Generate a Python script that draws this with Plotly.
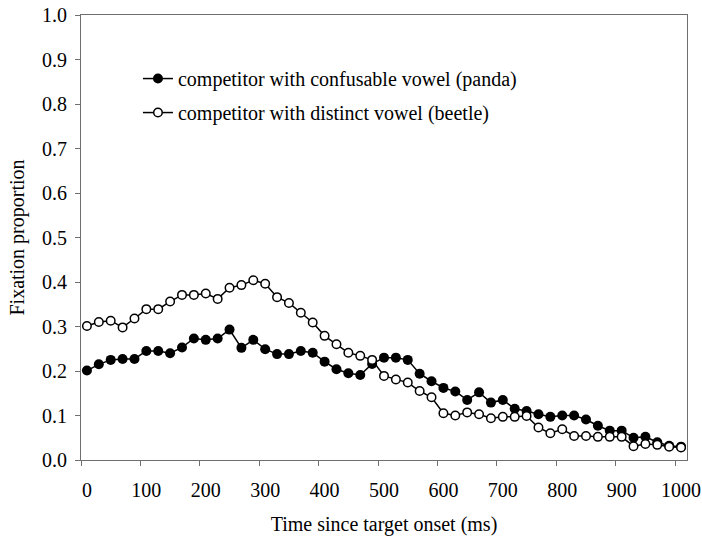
import plotly.graph_objects as go

# Time bins (ms since target onset), 20 ms steps
time_ms = list(range(0, 1001, 20))

# Fixation proportions per bin
panda = [0.201, 0.215, 0.225, 0.227, 0.227, 0.245, 0.245, 0.240, 0.253, 0.273,
         0.270, 0.273, 0.293, 0.252, 0.270, 0.249, 0.238, 0.238, 0.245, 0.241,
         0.221, 0.204, 0.195, 0.191, 0.216, 0.230, 0.230, 0.225, 0.194, 0.177,
         0.162, 0.154, 0.135, 0.152, 0.129, 0.135, 0.115, 0.110, 0.103, 0.097,
         0.100, 0.100, 0.091, 0.077, 0.066, 0.066, 0.050, 0.052, 0.040, 0.032,
         0.030]
beetle = [0.301, 0.310, 0.313, 0.298, 0.318, 0.339, 0.339, 0.356, 0.371, 0.371,
          0.374, 0.362, 0.387, 0.393, 0.404, 0.396, 0.366, 0.353, 0.331, 0.309,
          0.279, 0.260, 0.241, 0.234, 0.225, 0.189, 0.181, 0.174, 0.155, 0.141,
          0.105, 0.100, 0.107, 0.103, 0.094, 0.097, 0.097, 0.099, 0.073, 0.060,
          0.069, 0.054, 0.054, 0.052, 0.052, 0.052, 0.031, 0.036, 0.034, 0.030,
          0.028]

series_names = ["competitor with confusable vowel (panda)",
                "competitor with distinct vowel (beetle)"]

x_label_vals = list(range(0, 1001, 100))
x_label_text = [str(v) for v in x_label_vals]
# tick marks sit between categories (half a bin before each label)
x_tick_marks = [v - 10 for v in x_label_vals]

FONT = "Liberation Serif, Times New Roman, serif"
AXIS_COLOR = "#6f6f6f"

fig = go.Figure()
fig.add_trace(go.Scatter(
    x=time_ms, y=panda, name=series_names[0], mode="lines+markers",
    line=dict(color="black", width=1.5),
    marker=dict(symbol="circle", size=10, color="black"),
    legendgroup="a",
))
fig.add_trace(go.Scatter(
    x=time_ms, y=beetle, name=series_names[1], mode="lines+markers",
    line=dict(color="black", width=1.5),
    marker=dict(symbol="circle", size=8.5, color="white",
                line=dict(color="black", width=1.5)),
    legendgroup="b",
))

fig.update_layout(
    width=702, height=538,
    margin=dict(l=81, r=15, t=15, b=78),
    paper_bgcolor="white", plot_bgcolor="white",
    font=dict(family=FONT, size=20, color="black"),
    showlegend=True,
    legend=dict(
        x=0.094, y=0.901, xanchor="left", yanchor="top",
        bgcolor="rgba(0,0,0,0)", borderwidth=0,
        font=dict(family=FONT, size=20),
        traceorder="grouped", tracegroupgap=5,
    ),
    xaxis=dict(
        range=[-10, 1010], automargin=False,
        tickmode="array", tickvals=x_label_vals, ticktext=x_label_text,
        ticks="", ticklabelstandoff=12,
        minor=dict(tickmode="array", tickvals=x_tick_marks, ticks="outside",
                   ticklen=5, tickwidth=1, tickcolor=AXIS_COLOR, showgrid=False),
        showline=True, linecolor=AXIS_COLOR, linewidth=1, mirror=True,
        showgrid=False, zeroline=False,
        tickfont=dict(size=20),
        title=dict(text="Time since target onset (ms)", font=dict(size=20),
                   standoff=16),
    ),
    yaxis=dict(
        range=[0, 1], tickmode="linear", tick0=0, dtick=0.1, tickformat=".1f",
        automargin=False,
        ticks="outside", ticklen=5, tickwidth=1, tickcolor=AXIS_COLOR,
        ticklabelstandoff=4,
        showline=True, linecolor=AXIS_COLOR, linewidth=1, mirror=True,
        showgrid=False, zeroline=False,
        tickfont=dict(size=20),
        title=dict(text="Fixation proportion", font=dict(size=20), standoff=12),
    ),
)

fig.write_html("out.html")
